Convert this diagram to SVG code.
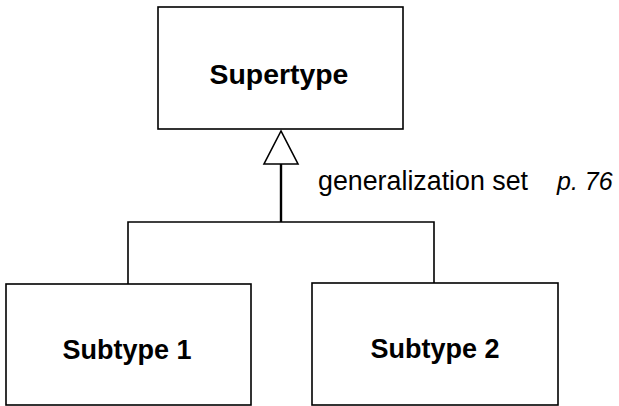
<svg xmlns="http://www.w3.org/2000/svg" width="619" height="406" viewBox="0 0 619 406">
<style>
.box{fill:#fff;stroke:#000;stroke-width:1.6}
.name{font-family:"Liberation Sans",Arial,sans-serif;font-weight:bold;font-size:27px;text-anchor:middle;fill:#000}
.lbl{font-family:"Liberation Sans",Arial,sans-serif;font-size:25px;fill:#000}
.ln{fill:none;stroke:#000;stroke-width:1.6}
</style>
<rect width="619" height="406" fill="#fff"/>
<g id="connectors">
<polyline class="ln" points="128,284 128,222 434,222 434,283"/>
<line class="ln" x1="281" y1="164" x2="281" y2="222" style="stroke-width:2.4"/>
<polygon points="281,131 264,164 298,164" fill="#fff" stroke="#000" stroke-width="1.6"/>
<text class="lbl" x="318" y="190" style="font-size:26.8px">generalization set</text>
<text class="lbl" x="557" y="190" style="font-style:italic">p. 76</text>
</g>
<g id="supertype">
<rect class="box" x="158" y="7" width="245" height="122"/>
<text class="name" x="279" y="84" style="font-size:28.4px">Supertype</text>
</g>
<g id="subtype1">
<rect class="box" x="6" y="284" width="245" height="121"/>
<text class="name" x="127" y="359">Subtype 1</text>
</g>
<g id="subtype2">
<rect class="box" x="312" y="283" width="246" height="122"/>
<text class="name" x="435" y="358">Subtype 2</text>
</g>
</svg>
